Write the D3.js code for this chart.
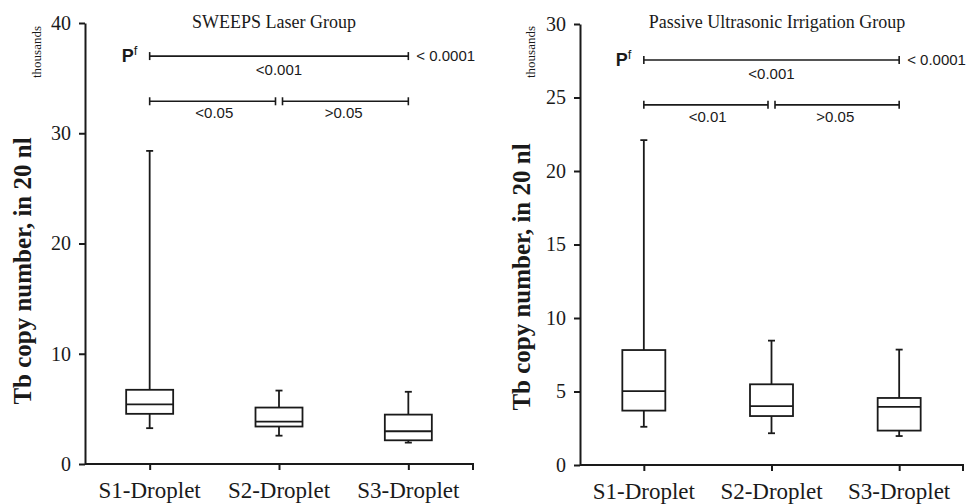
<!DOCTYPE html>
<html>
<head>
<meta charset="utf-8">
<script src="https://cdn.jsdelivr.net/npm/d3@7"></script>
<style>
  body { margin: 0; background: #fff; }
  svg { display: block; }
</style>
</head>
<body>
<div id="chart"></div>
<script>
// Categories shared by both panels
var categories = ["S1-Droplet", "S2-Droplet", "S3-Droplet"];

// SWEEPS laser group (thousands of copies)
var sweepsMin = [3.25, 2.57, 1.94];
var sweepsQ1 = [4.55, 3.4, 2.15];
var sweepsMedian = [5.4, 3.85, 2.97];
var sweepsQ3 = [6.73, 5.12, 4.48];
var sweepsMax = [28.4, 6.66, 6.55];
var sweepsTicks = [0, 10, 20, 30, 40];
var sweepsPairLabels = ["<0.05", ">0.05"];
var sweepsOverallLabel = "<0.001";
var sweepsFriedman = "< 0.0001";

// Passive ultrasonic irrigation group
var puiMin = [2.6, 2.16, 1.97];
var puiQ1 = [3.7, 3.33, 2.34];
var puiMedian = [5.03, 4.01, 3.95];
var puiQ3 = [7.82, 5.49, 4.56];
var puiMax = [22.1, 8.46, 7.85];
var puiTicks = [0, 5, 10, 15, 20, 25, 30];
var puiPairLabels = ["<0.01", ">0.05"];
var puiOverallLabel = "<0.001";
var puiFriedman = "< 0.0001";

var svgWidth = 972;
var svgHeight = 504;

var svg = d3.select("#chart")
    .append("svg")
    .attr("width", svgWidth)
    .attr("height", svgHeight);

var serif = "'Liberation Serif', 'Times New Roman', serif";
var sans = "'Liberation Sans', Arial, sans-serif";
var ink = "#1a1a1a";

function drawPanel(cfg) {
    var data = categories.map(function (c, i) {
        return { name: c, min: cfg.min[i], q1: cfg.q1[i], med: cfg.median[i], q3: cfg.q3[i], max: cfg.max[i] };
    });

    var x = d3.scalePoint()
        .domain(categories)
        .range([cfg.left, cfg.right])
        .padding(0.5);

    var y = d3.scaleLinear()
        .domain([0, d3.max(cfg.ticks)])
        .range([cfg.bottom, cfg.top]);

    var g = svg.append("g");

    // y axis
    var yAxis = g.append("g")
        .attr("transform", `translate(${cfg.left},0)`)
        .call(d3.axisLeft(y).tickValues(cfg.ticks).tickSize(6).tickPadding(8).tickSizeOuter(0));
    yAxis.select(".domain").attr("stroke", ink).attr("stroke-width", 2);
    yAxis.selectAll(".tick line").attr("stroke", ink).attr("stroke-width", 2);
    yAxis.selectAll(".tick text")
        .attr("fill", ink)
        .style("font-family", serif)
        .style("font-size", "20px");

    // x axis
    var xAxis = g.append("g")
        .attr("transform", `translate(0,${cfg.bottom})`)
        .call(d3.axisBottom(x).tickSize(6).tickSizeOuter(0).tickFormat(""));
    xAxis.select(".domain").attr("stroke", ink).attr("stroke-width", 2)
        .attr("d", `M${cfg.left},0H${cfg.right}V6`);
    xAxis.selectAll(".tick line").attr("stroke", ink).attr("stroke-width", 2);

    g.selectAll(".cat-label")
        .data(categories)
        .enter()
        .append("text")
        .attr("class", "cat-label")
        .attr("x", d => x(d))
        .attr("y", cfg.bottom + 34)
        .attr("text-anchor", "middle")
        .attr("fill", ink)
        .style("font-family", serif)
        .style("font-size", "23px")
        .text(d => d);

    // boxes
    var bw = cfg.boxWidth;
    var cap = 3.5;
    var boxes = g.selectAll(".box")
        .data(data)
        .enter()
        .append("g")
        .attr("class", "box")
        .attr("stroke", ink)
        .attr("stroke-width", 1.8)
        .attr("fill", "none");

    boxes.append("line")
        .attr("x1", d => x(d.name)).attr("x2", d => x(d.name))
        .attr("y1", d => y(d.max)).attr("y2", d => y(d.q3));
    boxes.append("line")
        .attr("x1", d => x(d.name)).attr("x2", d => x(d.name))
        .attr("y1", d => y(d.q1)).attr("y2", d => y(d.min));
    boxes.append("line")
        .attr("x1", d => x(d.name) - cap).attr("x2", d => x(d.name) + cap)
        .attr("y1", d => y(d.max)).attr("y2", d => y(d.max));
    boxes.append("line")
        .attr("x1", d => x(d.name) - cap).attr("x2", d => x(d.name) + cap)
        .attr("y1", d => y(d.min)).attr("y2", d => y(d.min));
    boxes.append("rect")
        .attr("x", d => x(d.name) - bw / 2)
        .attr("width", bw)
        .attr("y", d => y(d.q3))
        .attr("height", d => y(d.q1) - y(d.q3))
        .attr("fill", "#fff");
    boxes.append("line")
        .attr("x1", d => x(d.name) - bw / 2).attr("x2", d => x(d.name) + bw / 2)
        .attr("y1", d => y(d.med)).attr("y2", d => y(d.med));

    // significance brackets
    function bracket(x1, x2, yy) {
        var b = g.append("g").attr("stroke", ink).attr("stroke-width", 1.6);
        b.append("line").attr("x1", x1).attr("x2", x2).attr("y1", yy).attr("y2", yy);
        b.append("line").attr("x1", x1).attr("x2", x1).attr("y1", yy - 4).attr("y2", yy + 4);
        b.append("line").attr("x1", x2).attr("x2", x2).attr("y1", yy - 4).attr("y2", yy + 4);
    }
    var c0 = x(categories[0]), c1 = x(categories[1]), c2 = x(categories[2]);
    var yo = y(cfg.overallLevel);
    var yp = y(cfg.pairLevel);
    bracket(c0, c2, yo);
    bracket(c0, c1 - 3.5, yp);
    bracket(c1 + 3.5, c2, yp);

    function pText(tx, ty, str, anchor) {
        g.append("text")
            .attr("x", tx).attr("y", ty)
            .attr("text-anchor", anchor || "middle")
            .attr("fill", ink)
            .style("font-family", sans)
            .style("font-size", "15px")
            .text(str);
    }
    pText(c1, yo + 19, cfg.overallLabel);
    pText((c0 + c1) / 2, yp + 17, cfg.pairLabels[0]);
    pText((c1 + c2) / 2, yp + 17, cfg.pairLabels[1]);
    pText(c2 + 8, yo + 5, cfg.friedman, "start");

    var pf = g.append("text")
        .attr("x", c0 - 28).attr("y", yo + 6)
        .attr("fill", ink)
        .style("font-family", sans)
        .style("font-weight", "bold")
        .style("font-size", "18px");
    pf.append("tspan").text("P");
    pf.append("tspan").attr("dy", -7).style("font-size", "13px").style("font-weight", "normal").text("f");

    // title
    g.append("text")
        .attr("x", cfg.titleX).attr("y", 28)
        .attr("text-anchor", "middle")
        .attr("fill", ink)
        .style("font-family", serif)
        .style("font-size", "18px")
        .text(cfg.title);

    // "thousands" unit note
    g.append("text")
        .attr("transform", `translate(${cfg.unitX},52) rotate(-90)`)
        .attr("text-anchor", "middle")
        .attr("dy", "0.35em")
        .attr("fill", ink)
        .style("font-family", serif)
        .style("font-size", "13px")
        .text("thousands");

    // y label
    g.append("text")
        .attr("transform", `translate(${cfg.labelX},${cfg.labelY}) rotate(-90)`)
        .attr("text-anchor", "middle")
        .attr("dy", "0.35em")
        .attr("fill", ink)
        .style("font-family", serif)
        .style("font-weight", "bold")
        .style("font-size", "25px")
        .text("Tb copy number, in 20 nl");
}

drawPanel({
    left: 85, right: 473, top: 23, bottom: 464,
    boxWidth: 47,
    min: sweepsMin, q1: sweepsQ1, median: sweepsMedian, q3: sweepsQ3, max: sweepsMax,
    ticks: sweepsTicks,
    overallLevel: 37, pairLevel: 32.9,
    pairLabels: sweepsPairLabels, overallLabel: sweepsOverallLabel, friedman: sweepsFriedman,
    title: "SWEEPS Laser Group", titleX: 274,
    unitX: 36, labelX: 22, labelY: 271
});

drawPanel({
    left: 580, right: 963, top: 24, bottom: 465,
    boxWidth: 43,
    min: puiMin, q1: puiQ1, median: puiMedian, q3: puiQ3, max: puiMax,
    ticks: puiTicks,
    overallLevel: 27.55, pairLevel: 24.5,
    pairLabels: puiPairLabels, overallLabel: puiOverallLabel, friedman: puiFriedman,
    title: "Passive Ultrasonic Irrigation Group", titleX: 777,
    unitX: 530, labelX: 521, labelY: 277
});
</script>
</body>
</html>
